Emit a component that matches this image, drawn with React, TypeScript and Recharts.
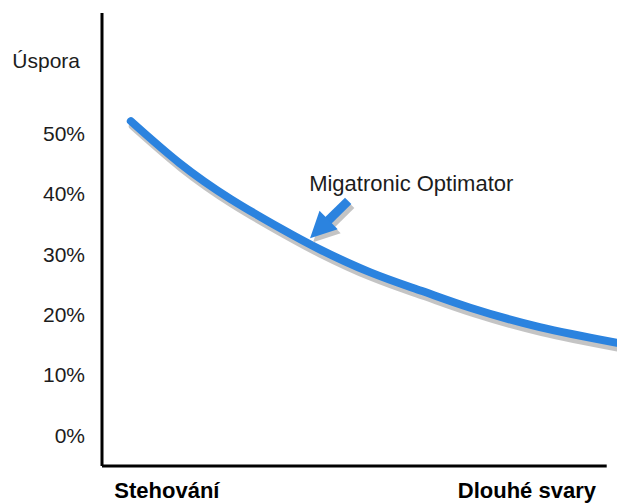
import { LineChart, Line, XAxis, YAxis, ReferenceLine } from "recharts";

// position along the "tacking -> long welds" axis (0..100) and savings in %
const weldPos = [5.6, 15, 25, 35, 42, 52, 62, 71.5, 85, 100];
const savings = [52.1, 45.2, 39.2, 34.2, 31.0, 27.1, 24.0, 21.2, 18.0, 15.4];

const yTicks = [0, 10, 20, 30, 40, 50];
const yTitle = "Úspora";
const yTitleAt = 62;

const xLabels = ["Stehování", "Dlouhé svary"];
const xLabelAt = [12.6, 82.5];

const calloutText = "Migatronic Optimator";
const arrowTail = { x: 47.8, y: 38.9 };
const arrowTip = { x: 40.4, y: 32.7 };

const BLUE = "#2b83df";
const SHADOW = "#c4c4c4";
const FONT = "'Liberation Sans', Arial, sans-serif";

const data = weldPos.map((x, i) => ({ x, value: savings[i] }));

function YTick({ x, y, payload }: any) {
  const isTitle = payload.value === yTitleAt;
  return (
    <text
      x={x - (isTitle ? 22 : 17)}
      y={y}
      dy={7}
      textAnchor="end"
      fontSize={21}
      fontFamily={FONT}
      fill="#1c1c1c"
    >
      {isTitle ? yTitle : `${payload.value}%`}
    </text>
  );
}

function XTick({ x, y, payload }: any) {
  const idx = xLabelAt.indexOf(payload.value);
  return (
    <text
      x={x}
      y={y}
      dy={32}
      textAnchor="middle"
      fontSize={22}
      fontWeight="bold"
      fontFamily={FONT}
      fill="#000"
    >
      {xLabels[idx]}
    </text>
  );
}

function arrowPaths(x1: number, y1: number, x2: number, y2: number) {
  const dx = x2 - x1;
  const dy = y2 - y1;
  const len = Math.hypot(dx, dy);
  const ux = dx / len;
  const uy = dy / len;
  const nx = -uy;
  const ny = ux;
  const head = 26;
  const half = 13;
  const bx = x2 - ux * head;
  const by = y2 - uy * head;
  const shaft = `M${x1},${y1} L${bx + ux * 2},${by + uy * 2}`;
  const tri = `M${x2},${y2} L${bx + nx * half},${by + ny * half} L${bx - nx * half},${by - ny * half} Z`;
  return { shaft, tri };
}

function CalloutArrow(props: any) {
  const { x1, y1, x2, y2 } = props;
  const { shaft, tri } = arrowPaths(x1, y1, x2, y2);
  return (
    <g>
      <g transform="translate(3,4)">
        <path d={shaft} stroke={SHADOW} strokeWidth={9} fill="none" />
        <path d={tri} fill={SHADOW} />
      </g>
      <path d={shaft} stroke={BLUE} strokeWidth={9} fill="none" />
      <path d={tri} fill={BLUE} />
      <text
        x={x1 - 39}
        y={y1 - 10}
        fontSize={22}
        fontFamily={FONT}
        fill="#1c1c1c"
      >
        {calloutText}
      </text>
    </g>
  );
}

export default function App() {
  return (
    <div style={{ position: "absolute", left: 0, top: 0, width: 617, height: 504, background: "#fff" }}>
      <style>{".recharts-line-curve { filter: drop-shadow(2px 5px 0 #c4c4c4); }"}</style>
      <LineChart width={617} height={504} data={data} margin={{ top: 13, right: 0, bottom: 0, left: 0 }}>
        <XAxis
          type="number"
          dataKey="x"
          domain={[0, 100]}
          ticks={xLabelAt}
          axisLine={false}
          tickLine={false}
          tickSize={0}
          tickMargin={0}
          height={38}
          tick={<XTick />}
          interval={0}
        />
        <YAxis
          type="number"
          domain={[-5, 70]}
          allowDataOverflow
          ticks={[...yTicks, yTitleAt]}
          axisLine={{ stroke: "#000", strokeWidth: 3 }}
          tickLine={false}
          tickSize={0}
          tickMargin={0}
          width={102}
          tick={<YTick />}
          interval={0}
        />
        <ReferenceLine
          segment={[
            { x: 0, y: -5 },
            { x: 98, y: -5 },
          ]}
          stroke="#000"
          strokeWidth={3}
          ifOverflow="visible"
        />
        <Line
          type="natural"
          dataKey="value"
          stroke={BLUE}
          strokeWidth={8}
          strokeLinecap="round"
          dot={false}
          activeDot={false}
          isAnimationActive={false}
        />
        <ReferenceLine
          segment={[arrowTail, arrowTip]}
          ifOverflow="visible"
          shape={<CalloutArrow />}
        />
      </LineChart>
    </div>
  );
}
